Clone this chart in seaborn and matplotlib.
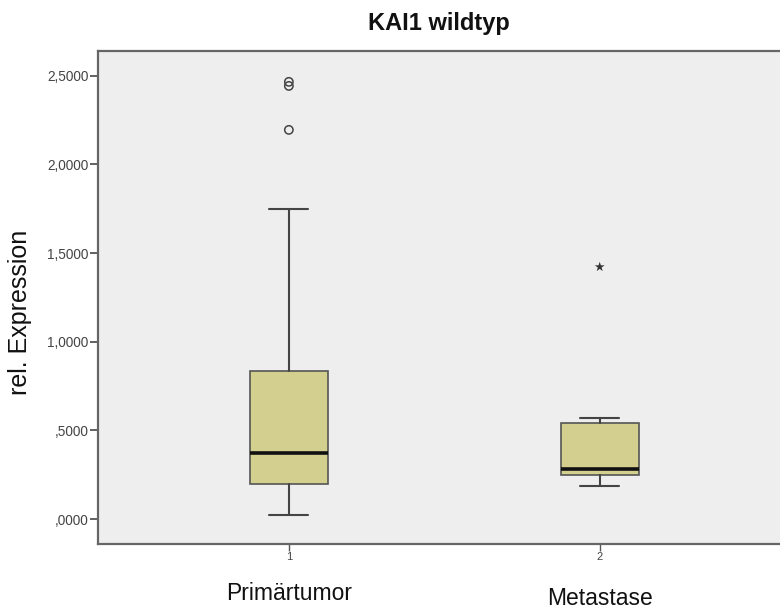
import matplotlib
matplotlib.use("Agg")
import matplotlib.pyplot as plt
import seaborn as sns
import pandas as pd
from matplotlib.transforms import blended_transform_factory

# ---- data ----
title = "KAI1 wildtyp"
y_label = "rel. Expression"
groups = ["Primärtumor", "Metastase"]
group_codes = ["1", "2"]
whisker_low = [0.023, 0.186]
q1 = [0.197, 0.248]
median = [0.372, 0.282]
q3 = [0.835, 0.542]
whisker_high = [1.75, 0.570]
outlier_group = ["Primärtumor", "Primärtumor", "Primärtumor"]
outlier_values = [2.195, 2.443, 2.466]
extreme_group = ["Metastase"]
extreme_values = [1.422]
y_ticks = [0.0, 0.5, 1.0, 1.5, 2.0, 2.5]
y_tick_labels = [",0000", ",5000", "1,0000", "1,5000", "2,0000", "2,5000"]

sns.set_theme(style="white")
plt.rcParams["font.family"] = ["Liberation Sans", "DejaVu Sans"]

fig = plt.figure(figsize=(7.8, 6.1), dpi=100)
ax = fig.add_axes([98 / 780, 66 / 610, 682 / 780, 493 / 610])
ax.set_facecolor("#eeeeee")

positions = list(range(len(groups)))
stats = [
    dict(med=median[i], q1=q1[i], q3=q3[i], whislo=whisker_low[i],
         whishi=whisker_high[i], fliers=[], label=groups[i])
    for i in positions
]
ax.bxp(stats, positions=positions, widths=0.25, capwidths=0.125,
       patch_artist=True, showfliers=False,
       boxprops=dict(facecolor="#d2cf8f", edgecolor="#555555", linewidth=1.2),
       medianprops=dict(color="#111111", linewidth=2.6),
       whiskerprops=dict(color="#444444", linewidth=1.5),
       capprops=dict(color="#444444", linewidth=1.5))

out_df = pd.DataFrame({"x": [groups.index(g) for g in outlier_group],
                       "y": outlier_values})
sns.scatterplot(data=out_df, x="x", y="y", ax=ax, marker="o", s=36,
                facecolor="none", edgecolor="#444444", linewidth=1.1,
                legend=False, zorder=5)
ext_df = pd.DataFrame({"x": [groups.index(g) for g in extreme_group],
                       "y": extreme_values})
sns.scatterplot(data=ext_df, x="x", y="y", ax=ax, marker="*", s=55,
                color="#333333", edgecolor="none", legend=False, zorder=5)

ax.set_xlim(-0.614, 1.58)
ax.set_ylim(-0.141, 2.64)
ax.set_yticks(y_ticks)
ax.set_yticklabels(y_tick_labels)
ax.set_xticks(positions)
ax.set_xticklabels(group_codes)
ax.set_xlabel("")
ax.set_ylabel(y_label, fontsize=18, color="#111111")
ax.yaxis.set_label_coords(-0.097, 0.47)

ax.tick_params(axis="y", direction="out", length=6, width=1.3,
               color="#555555", labelsize=9.8, labelcolor="#444444", pad=1,
               left=True)
ax.tick_params(axis="x", direction="out", length=5, width=1.0,
               color="#555555", labelsize=8, labelcolor="#444444", pad=1,
               bottom=True)

for side in ["left", "bottom", "top"]:
    ax.spines[side].set_visible(True)
    ax.spines[side].set_color("#666666")
    ax.spines[side].set_linewidth(1.6)
ax.spines["right"].set_visible(False)

ax.set_title(title, fontsize=17, fontweight="bold", pad=15, color="#111111")

trans = blended_transform_factory(ax.transData, ax.transAxes)
label_y = [-0.1136, -0.1237]
for i, g in enumerate(groups):
    ax.text(i, label_y[i], g, transform=trans, ha="center", va="baseline",
            fontsize=16.5, color="#111111")

fig.savefig("out.png", dpi=100)
